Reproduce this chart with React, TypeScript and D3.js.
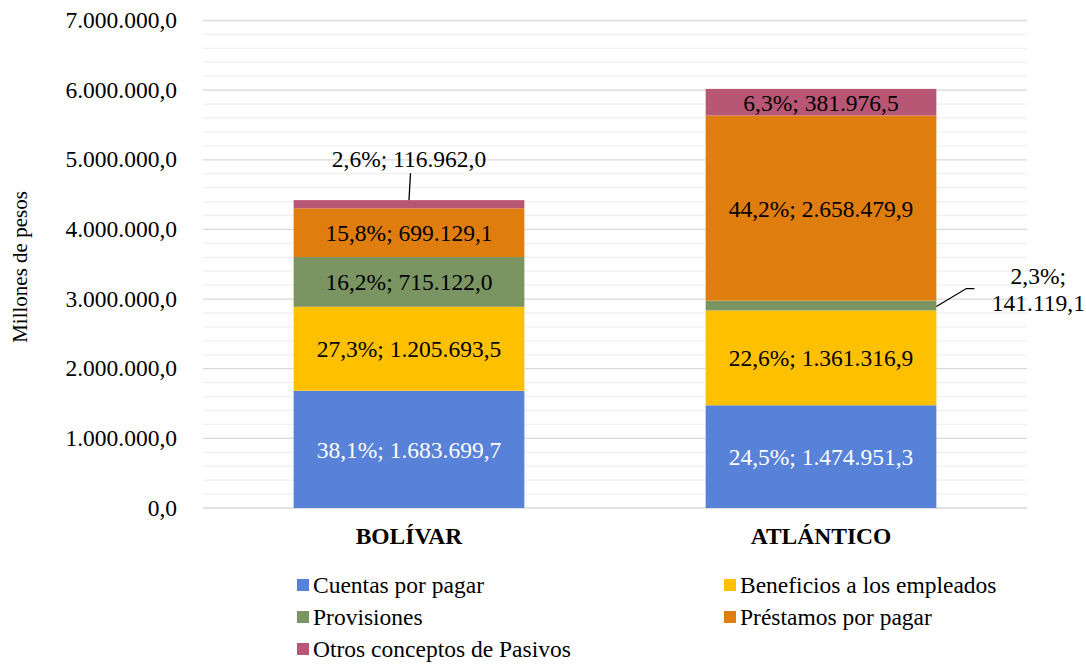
import React from "react";
import * as d3 from "d3";

const categories = ["BOLÍVAR", "ATLÁNTICO"];
const seriesNames = [
  "Cuentas por pagar",
  "Beneficios a los empleados",
  "Provisiones",
  "Préstamos por pagar",
  "Otros conceptos de Pasivos",
];
const cuentasPorPagar = [1683699.7, 1474951.3];
const beneficiosEmpleados = [1205693.5, 1361316.9];
const provisiones = [715122.0, 141119.1];
const prestamosPorPagar = [699129.1, 2658479.9];
const otrosPasivos = [116962.0, 381976.5];
const yTicks = [0, 1000000, 2000000, 3000000, 4000000, 5000000, 6000000, 7000000];

const colors = ["#5881D8", "#FFC000", "#7A9462", "#DF7D0E", "#B85675"];
const labelColors = ["#ffffff", "#000000", "#000000", "#000000", "#000000"];

const W = 1086;
const H = 664;
const FONT = "Liberation Serif";
const FS = 23.5;

const locale = d3.formatLocale({ decimal: ",", thousands: ".", grouping: [3], currency: ["$", ""] });
const fmtNum = locale.format(",.1f");
const fmtPct = locale.format(".1f");

export default function App() {
  const series = [cuentasPorPagar, beneficiosEmpleados, provisiones, prestamosPorPagar, otrosPasivos];
  const left = 203, right = 1027, top = 20.5, bottom = 508;
  const x = d3.scaleBand<string>().domain(categories).range([left, right]).padding(0);
  const barW = x.bandwidth() * 0.56;
  const y = d3.scaleLinear().domain([0, 7000000]).range([bottom, top]);
  const minorTicks = d3.range(0, 7000001, 200000).filter((v) => v % 1000000 !== 0);

  const rows = categories.map((c, i) => {
    const obj: any = { cat: c };
    seriesNames.forEach((s, j) => (obj[s] = series[j][i]));
    return obj;
  });
  const stacked = d3.stack<any>().keys(seriesNames)(rows);
  const totals = categories.map((_, i) => d3.sum(series, (s) => s[i]));
  const tStyle = { fontFamily: FONT } as React.CSSProperties;

  return (
    <svg width={W} height={H} style={{ position: "absolute", left: 0, top: 0, background: "#fff" }}>
      {minorTicks.map((v) => (
        <line key={"m" + v} x1={left} x2={right} y1={y(v)} y2={y(v)} stroke="#f0f0f0" strokeWidth={1.3} />
      ))}
      {yTicks.map((v) => (
        <line key={"g" + v} x1={left} x2={right} y1={y(v)} y2={y(v)} stroke="#d9d9d9" strokeWidth={1.3} />
      ))}
      {yTicks.map((v) => (
        <text key={"t" + v} x={177} y={y(v) + 7.5} textAnchor="end" fontSize={FS} fill="#000" style={tStyle}>
          {fmtNum(v)}
        </text>
      ))}
      <text transform={`translate(27,267) rotate(-90)`} textAnchor="middle" fontSize={21} fill="#000" style={tStyle}>
        {"Millones  de pesos"}
      </text>
      {stacked.map((layer, j) =>
        layer.map((d, i) => {
          const cx = (x(categories[i]) as number) + x.bandwidth() / 2;
          return (
            <rect
              key={`r${j}-${i}`}
              x={cx - barW / 2}
              y={y(d[1])}
              width={barW}
              height={y(d[0]) - y(d[1])}
              fill={colors[j]}
            />
          );
        })
      )}
      {stacked.map((layer, j) =>
        layer.map((d, i) => {
          const cx = (x(categories[i]) as number) + x.bandwidth() / 2;
          const v = series[j][i];
          const txt = `${fmtPct((v / totals[i]) * 100)}%; ${fmtNum(v)}`;
          const y0 = y(d[0]);
          const y1 = y(d[1]);
          if (j === 4 && i === 0) {
            return (
              <g key={`l${j}-${i}`}>
                <line x1={cx + 1.5} y1={y1 - 27} x2={cx} y2={y1} stroke="#000" strokeWidth={1.3} />
                <text x={cx} y={y1 - 33} textAnchor="middle" fontSize={FS} fill="#000" style={tStyle}>
                  {txt}
                </text>
              </g>
            );
          }
          if (j === 2 && i === 1) {
            const ex = cx + barW / 2;
            const ey = (y0 + y1) / 2;
            return (
              <g key={`l${j}-${i}`}>
                <polyline
                  points={`${ex},${ey + 1} ${ex + 30},${ey - 17} ${ex + 38},${ey - 17}`}
                  fill="none"
                  stroke="#000"
                  strokeWidth={1.3}
                />
                <text x={ex + 102} y={ey - 22} textAnchor="middle" fontSize={FS} fill="#000" style={tStyle}>
                  {`${fmtPct((v / totals[i]) * 100)}%;`}
                </text>
                <text x={ex + 102} y={ey + 5} textAnchor="middle" fontSize={FS} fill="#000" style={tStyle}>
                  {fmtNum(v)}
                </text>
              </g>
            );
          }
          return (
            <text
              key={`l${j}-${i}`}
              x={cx}
              y={(y0 + y1) / 2 + 8.5}
              textAnchor="middle"
              fontSize={FS}
              fill={labelColors[j]}
              style={tStyle}
            >
              {txt}
            </text>
          );
        })
      )}
      {categories.map((c) => (
        <text
          key={c}
          x={(x(c) as number) + x.bandwidth() / 2}
          y={544}
          textAnchor="middle"
          fontSize={FS}
          fontWeight="bold"
          fill="#000"
          style={tStyle}
        >
          {c}
        </text>
      ))}
      {seriesNames.map((s, j) => {
        const col = j % 2;
        const row = Math.floor(j / 2);
        const lx = col === 0 ? 297 : 724;
        const ly = 585 + row * 32;
        return (
          <g key={"lg" + s}>
            <rect x={lx} y={ly - 6} width={12} height={12} fill={colors[j]} />
            <text x={lx + 16} y={ly + 8} fontSize={FS} fill="#000" style={tStyle}>
              {s}
            </text>
          </g>
        );
      })}
    </svg>
  );
}
